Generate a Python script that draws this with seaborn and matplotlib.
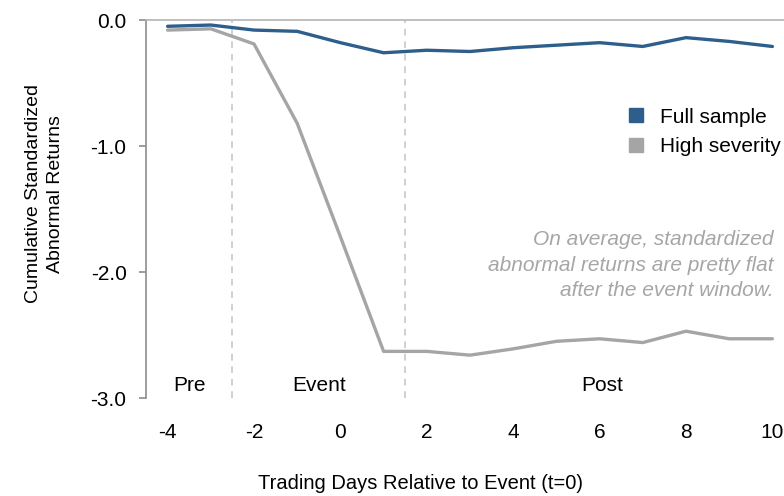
import numpy as np
import pandas as pd
import matplotlib as mpl
from matplotlib import pyplot as plt
from matplotlib.lines import Line2D
import seaborn as sns

# data
days = [-4, -3, -2, -1, 0, 1, 2, 3, 4, 5, 6, 7, 8, 9, 10]
full_sample = [-0.05, -0.04, -0.08, -0.09, -0.18, -0.26, -0.24, -0.25, -0.22, -0.20, -0.18, -0.21, -0.14, -0.17, -0.21]
high_severity = [-0.08, -0.07, -0.19, -0.82, -1.72, -2.63, -2.63, -2.66, -2.61, -2.55, -2.53, -2.56, -2.47, -2.53, -2.53]
series_names = ["Full sample", "High severity"]
series_colors = ["#2e5f8c", "#a5a5a5"]
y_ticks = [0.0, -1.0, -2.0, -3.0]
x_ticks = [-4, -2, 0, 2, 4, 6, 8, 10]
period_bounds = [-2.5, 1.5]
period_labels = [("Pre", -3.5), ("Event", -0.5), ("Post", 6.05)]

df = pd.DataFrame({
    "day": days * 2,
    "value": full_sample + high_severity,
    "series": [series_names[0]] * len(days) + [series_names[1]] * len(days),
})

sns.set_style("white")
plt.rcParams["font.family"] = ["Liberation Sans", "DejaVu Sans"]
plt.rcParams.update({"text.color": "black", "axes.labelcolor": "black",
                     "xtick.color": "black", "ytick.color": "black"})

fig = plt.figure(figsize=(7.84, 4.96), dpi=100)
ax = fig.add_axes([146 / 784, 98 / 496, 648 / 784, 378 / 496])

sns.lineplot(data=df, x="day", y="value", hue="series", palette=series_colors,
             linewidth=2.4, legend=False, ax=ax)

# period separators
for b in period_bounds:
    ax.axvline(b, color="#c8c8c8", linestyle=(0, (4, 3.5)), linewidth=1.2, zorder=0)
for name, xpos in period_labels:
    ax.text(xpos, -2.9, name, ha="center", va="center", fontsize=15, color="black")

ax.set_xlim(-4.5, 10.5)
ax.set_ylim(-3.0, 0.0)
ax.set_xticks(x_ticks)
ax.set_xticklabels([str(t) for t in x_ticks])
ax.set_yticks(y_ticks)
ax.set_yticklabels([f"{t:.1f}" for t in y_ticks])

for side in ["right", "bottom"]:
    ax.spines[side].set_visible(False)
ax.spines["left"].set_color("#8c8c8c")
ax.spines["left"].set_linewidth(1.2)
ax.spines["top"].set_color("#b4b4b4")
ax.spines["top"].set_linewidth(1.2)

ax.tick_params(axis="y", left=True, length=5, width=1.2, color="#8c8c8c",
               labelcolor="black", labelsize=15, pad=9)
ax.tick_params(axis="x", bottom=False, length=0, labelcolor="black", labelsize=15, pad=18)

ax.set_xlabel("Trading Days Relative to Event (t=0)", fontsize=14.5, color="black")
ax.xaxis.set_label_coords(0.423, -0.2)
ax.set_ylabel("Cumulative Standardized\nAbnormal Returns", fontsize=14, color="black", linespacing=1.35)
ax.yaxis.set_label_coords(-0.127, 0.54)

handles = [Line2D([], [], marker="s", linestyle="none", markersize=9.5, color=c) for c in series_colors]
leg = ax.legend(handles, series_names, loc="upper left", bbox_to_anchor=(0.727, 0.79),
                frameon=False, fontsize=15, handlelength=1.0, handletextpad=0.65,
                labelspacing=0.5, borderaxespad=0)
for t in leg.get_texts():
    t.set_color("black")

ax.text(10.02, -1.945, "On average, standardized\nabnormal returns are pretty flat\nafter the event window.",
        ha="right", va="center", fontsize=15, style="italic", color="#a6a6a6", linespacing=1.42)

fig.savefig("out.png", dpi=100)
